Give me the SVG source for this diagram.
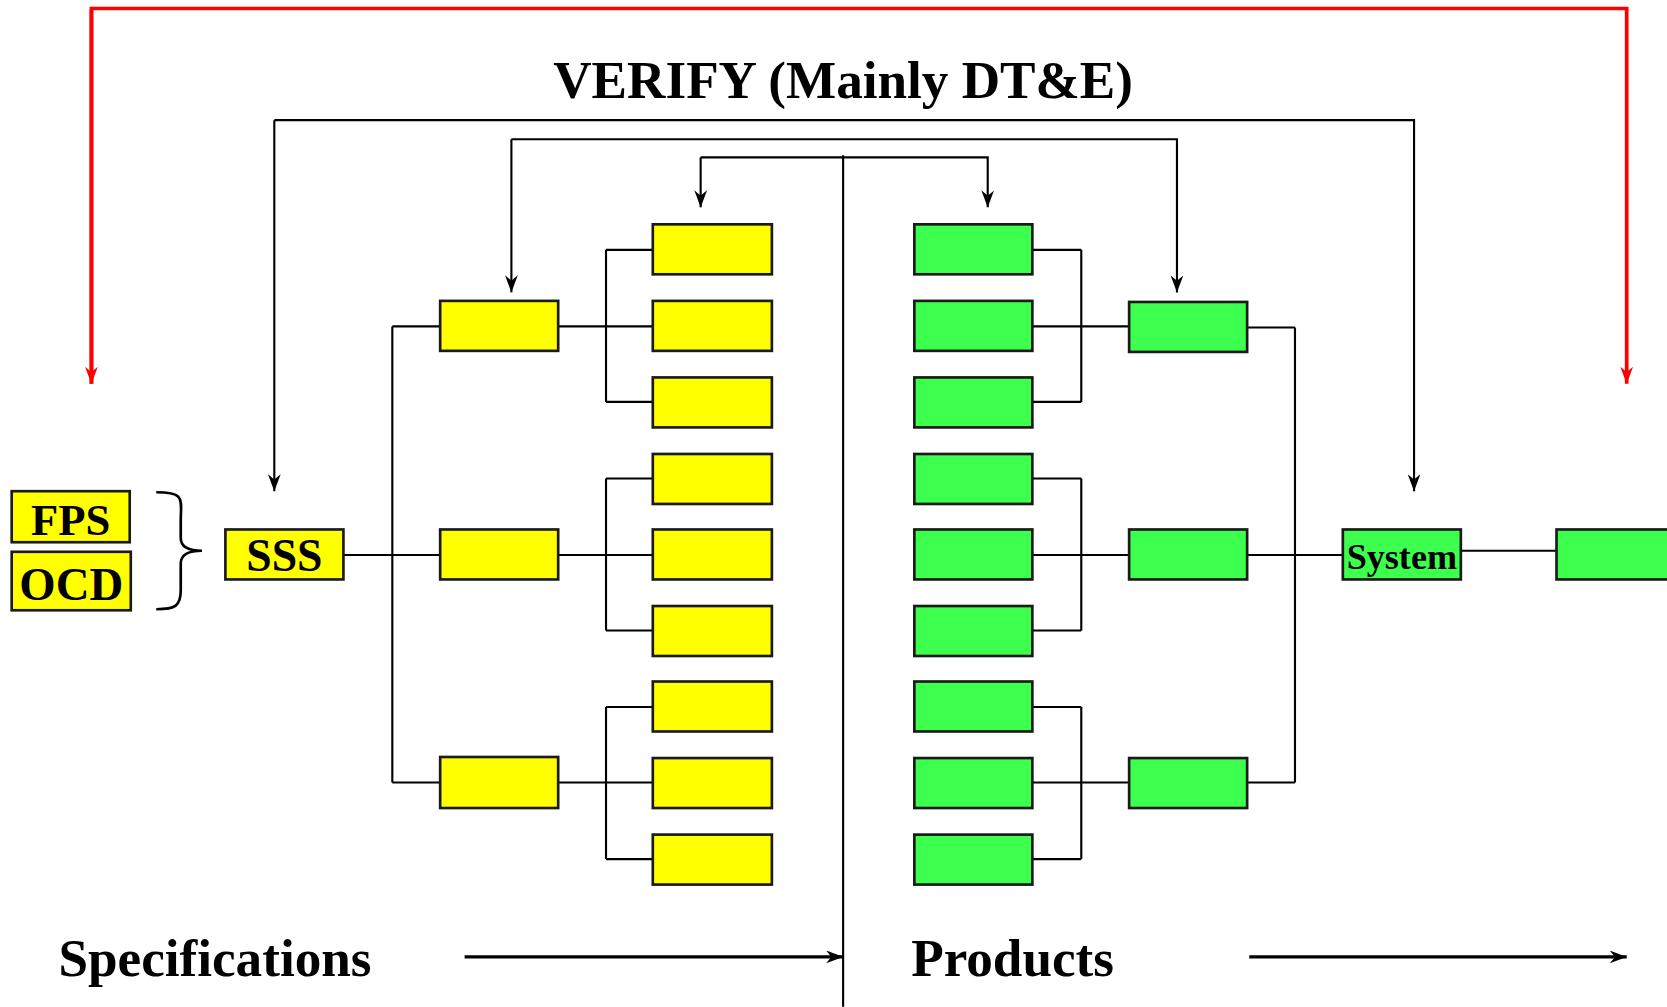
<svg xmlns="http://www.w3.org/2000/svg" width="1667" height="1007" viewBox="0 0 1667 1007">
<defs>
<marker id="ab" viewBox="0 0 16 12" refX="16" refY="6" markerWidth="16" markerHeight="12" markerUnits="userSpaceOnUse" orient="auto"><path d="M0,0 L16,6 L0,12 L5,6 Z" fill="#000"/></marker>
<marker id="ab2" viewBox="0 0 16 12" refX="16" refY="6" markerWidth="16" markerHeight="12" markerUnits="userSpaceOnUse" orient="auto"><path d="M0,0 L16,6 L0,12 L5,6 Z" fill="#000"/></marker>
<marker id="ar" viewBox="0 0 16 12" refX="16" refY="6" markerWidth="16" markerHeight="12" markerUnits="userSpaceOnUse" orient="auto"><path d="M0,0 L16,6 L0,12 L5,6 Z" fill="#f00"/></marker>
</defs>
<style>
.y{fill:#ffff00;stroke:#1a1a1a;stroke-width:2.5}
.g{fill:#3dff4d;stroke:#1a1a1a;stroke-width:2.5}
.c{fill:none;stroke:#000;stroke-width:2}
.t{font-family:"Liberation Serif","Times New Roman",serif;font-weight:bold;fill:#000}
</style>
<rect width="1667" height="1007" fill="#fff"/>
<g transform="scale(1.0632)">
<g id="connectors">
<path d="M86,361 V8 H1530 V361" fill="none" stroke="#f00" stroke-width="3.5" stroke-linejoin="miter" marker-end="url(#ar)"/>
<path d="M86,9 V361" fill="none" stroke="#f00" stroke-width="3.5" marker-end="url(#ar)"/>
<path class="c" d="M258,113 H1330 V462" marker-end="url(#ab)"/>
<path class="c" d="M258,113 V462" marker-end="url(#ab)"/>
<path class="c" d="M481,131 H1107 V275" marker-end="url(#ab)"/>
<path class="c" d="M481,131 V275" marker-end="url(#ab)"/>
<path class="c" d="M659,148 H929 V195" marker-end="url(#ab)"/>
<path class="c" d="M659,148 V195" marker-end="url(#ab)"/>
<path class="c" d="M793,146 V947"/>
<path class="c" d="M323,522 H414 M369,307 V736 M369,307 H414 M369,736 H414"/>
<path class="c" d="M525,307 H614 M570,235 V378 M570,235 H614 M570,378 H614"/>
<path class="c" d="M525,522 H614 M570,450 V593 M570,450 H614 M570,593 H614"/>
<path class="c" d="M525,736 H614 M570,665 V808 M570,665 H614 M570,808 H614"/>
<path class="c" d="M971,307 H1062 M1017,235 V378 M971,235 H1017 M971,378 H1017"/>
<path class="c" d="M971,522 H1062 M1017,450 V593 M971,450 H1017 M971,593 H1017"/>
<path class="c" d="M971,736 H1062 M1017,665 V808 M971,665 H1017 M971,808 H1017"/>
<path class="c" d="M1173,522 H1263 M1218,308 V736 M1173,308 H1218 M1173,736 H1218"/>
<path class="c" d="M1374,518 H1464"/>
<path fill="none" stroke="#000" stroke-width="3" d="M437,900 H793" marker-end="url(#ab2)"/>
<path fill="none" stroke="#000" stroke-width="3" d="M1175,900 H1530" marker-end="url(#ab2)"/>
<path fill="none" stroke="#000" stroke-width="2.5" d="M147,463 C175,463 170,470 170,490 V506 C170,514 176,518 190,518 C176,518 170,522 170,530 V555 C170,570 165,573 147,573"/>
</g>
<g id="fps"><rect class="y" x="11" y="462" width="111" height="48"/><text class="t" x="66.5" y="503" font-size="42" text-anchor="middle">FPS</text></g>
<g id="ocd"><rect class="y" x="11" y="519" width="112" height="55"/><text class="t" x="67" y="564" font-size="44" text-anchor="middle">OCD</text></g>
<g id="sss"><rect class="y" x="212" y="498" width="111" height="47"/><text class="t" x="267.5" y="537" font-size="43" text-anchor="middle">SSS</text></g>
<g id="spec-l2">
<rect class="y" x="414" y="283" width="111" height="47"/>
<rect class="y" x="414" y="498" width="111" height="47"/>
<rect class="y" x="414" y="712" width="111" height="48"/>
</g>
<g id="spec-l3">
<rect class="y" x="614" y="211" width="112" height="47"/>
<rect class="y" x="614" y="283" width="112" height="47"/>
<rect class="y" x="614" y="355" width="112" height="47"/>
<rect class="y" x="614" y="427" width="112" height="47"/>
<rect class="y" x="614" y="498" width="112" height="47"/>
<rect class="y" x="614" y="570" width="112" height="47"/>
<rect class="y" x="614" y="641" width="112" height="47"/>
<rect class="y" x="614" y="713" width="112" height="47"/>
<rect class="y" x="614" y="785" width="112" height="47"/>
</g>
<g id="prod-l3">
<rect class="g" x="860" y="211" width="111" height="47"/>
<rect class="g" x="860" y="283" width="111" height="47"/>
<rect class="g" x="860" y="355" width="111" height="47"/>
<rect class="g" x="860" y="427" width="111" height="47"/>
<rect class="g" x="860" y="498" width="111" height="47"/>
<rect class="g" x="860" y="570" width="111" height="47"/>
<rect class="g" x="860" y="641" width="111" height="47"/>
<rect class="g" x="860" y="713" width="111" height="47"/>
<rect class="g" x="860" y="785" width="111" height="47"/>
</g>
<g id="prod-l2">
<rect class="g" x="1062" y="284" width="111" height="47"/>
<rect class="g" x="1062" y="498" width="111" height="47"/>
<rect class="g" x="1062" y="713" width="111" height="47"/>
</g>
<g id="system"><rect class="g" x="1263" y="498" width="111" height="47"/><text class="t" x="1318.5" y="535" font-size="34" text-anchor="middle">System</text></g>
<g id="final"><rect class="g" x="1464" y="498" width="120" height="47"/></g>
<g id="labels">
<text class="t" x="793" y="92" font-size="50" text-anchor="middle">VERIFY (Mainly DT&amp;E)</text>
<text class="t" x="55" y="918" font-size="50">Specifications</text>
<text class="t" x="857" y="918" font-size="50">Products</text>
</g>
</g>
</svg>
